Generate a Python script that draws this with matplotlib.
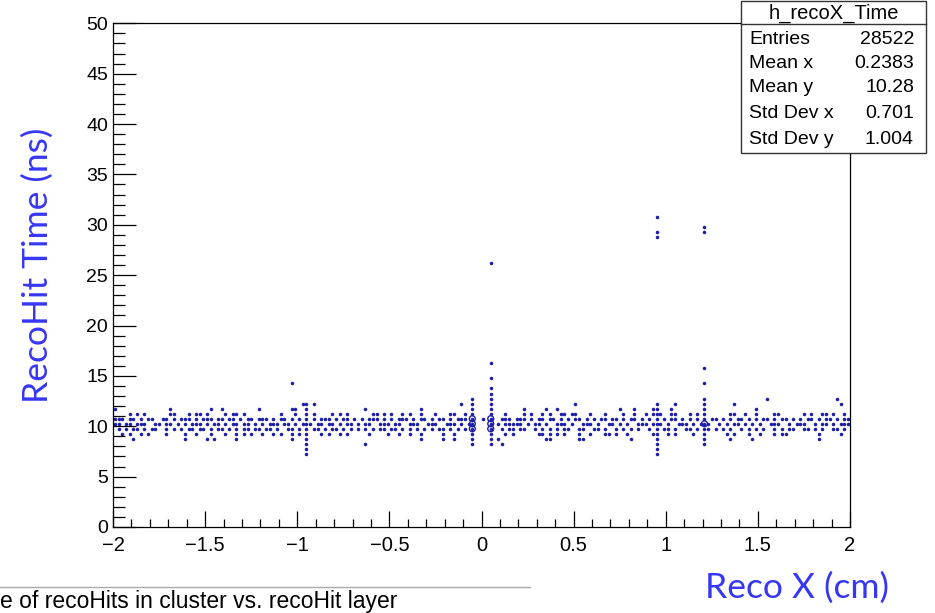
import matplotlib.pyplot as plt
import numpy as np
from matplotlib.ticker import MultipleLocator

# hits: x positions for each time row (ns)
row_1275 = [1.55, 1.93]
row_1225 = [-0.97, -0.91, -0.11, 0.51, 1.05, 1.37, 1.95]
row_1175 = [-1.99, -1.69, -1.47, -1.41, -1.21, -1.03, -1.01, -0.63, -0.33,
            0.23, 0.35, 0.41, 0.75, 0.83, 0.93, 1.03, 1.49]
row_1125 = [-1.91, -1.87, -1.83, -1.69, -1.67, -1.59, -1.55, -1.53, -1.49, -1.39,
            -1.35, -1.33, -1.29, -1.09, -1.01, -0.91, -0.81, -0.77, -0.73,
            -0.59, -0.57, -0.53, -0.49, -0.43, -0.39, -0.33, -0.25, -0.17, -0.15, -0.09,
            0.13, 0.23, 0.27, 0.33, 0.37, 0.43, 0.45, 0.49, 0.51, 0.59,
            0.67, 0.77, 0.83, 0.89, 0.93, 0.97, 1.03, 1.05, 1.13, 1.17,
            1.35, 1.37, 1.43, 1.49, 1.59, 1.61, 1.75, 1.79, 1.85, 1.87, 1.91, 1.97]
row_1075 = [-1.99, -1.97, -1.95, -1.91, -1.89, -1.85, -1.81, -1.79, -1.73, -1.71,
            -1.67, -1.63, -1.61, -1.59, -1.55, -1.51, -1.49, -1.47, -1.43, -1.41,
            -1.37, -1.35, -1.31, -1.27, -1.25, -1.21, -1.19, -1.17, -1.13, -1.09,
            -1.07, -1.03, -0.99, -0.91, -0.87, -0.85, -0.83, -0.79, -0.75, -0.73,
            -0.69, -0.65, -0.61, -0.59, -0.57, -0.53, -0.49, -0.45, -0.43, -0.41,
            -0.37, -0.33, -0.31, -0.27, -0.23, -0.21, -0.17, -0.13, -0.11, -0.09,
            0.01, 0.11, 0.13, 0.15, 0.19, 0.21, 0.23, 0.27, 0.31, 0.33, 0.37, 0.39,
            0.43, 0.47, 0.51, 0.53, 0.57, 0.61, 0.65, 0.67, 0.71, 0.73, 0.77, 0.81,
            0.83, 0.87, 0.91, 0.99, 1.03, 1.05, 1.09, 1.13, 1.17, 1.25, 1.27, 1.31,
            1.35, 1.39, 1.41, 1.45, 1.49, 1.53, 1.55, 1.59, 1.63, 1.65, 1.69, 1.73,
            1.77, 1.79, 1.83, 1.87, 1.89, 1.93, 1.97, 1.99]
row_1025 = [-1.99, -1.97, -1.93, -1.91, -1.87, -1.85, -1.83, -1.77, -1.75, -1.71,
            -1.69, -1.65, -1.61, -1.57, -1.55, -1.53, -1.49, -1.45, -1.43, -1.39,
            -1.35, -1.33, -1.29, -1.27, -1.23, -1.19, -1.15, -1.13, -1.11, -1.07,
            -1.05, -1.01, -0.97, -0.93, -0.89, -0.87, -0.83, -0.81, -0.77, -0.73,
            -0.71, -0.67, -0.63, -0.61, -0.55, -0.53, -0.51, -0.47, -0.45, -0.39,
            -0.37, -0.35, -0.29, -0.27, -0.25, -0.19, -0.17, -0.15, -0.11, -0.07,
            0.09, 0.13, 0.15, 0.17, 0.19, 0.21, 0.25, 0.29, 0.31, 0.35, 0.41, 0.43,
            0.45, 0.49, 0.55, 0.57, 0.59, 0.63, 0.69, 0.71, 0.75, 0.79, 0.85, 0.87,
            0.89, 0.93, 0.97, 1.01, 1.07, 1.09, 1.11, 1.15, 1.19, 1.23, 1.29, 1.33,
            1.37, 1.39, 1.43, 1.47, 1.51, 1.57, 1.59, 1.61, 1.67, 1.71, 1.73, 1.75,
            1.81, 1.85, 1.87, 1.91, 1.95, 1.97, 1.99]
row_975 = [-1.97, -1.93, -1.89, -1.87, -1.83, -1.79, -1.77, -1.71, -1.67, -1.63,
           -1.59, -1.57, -1.53, -1.51, -1.47, -1.43, -1.41, -1.37, -1.33, -1.29,
           -1.27, -1.23, -1.21, -1.17, -1.15, -1.11, -1.05, -1.03, -0.99, -0.91,
           -0.89, -0.85, -0.81, -0.79, -0.75, -0.71, -0.67, -0.63, -0.59, -0.55,
           -0.53, -0.49, -0.47, -0.43, -0.39, -0.35, -0.31, -0.27, -0.23, -0.21,
           -0.17, -0.13, -0.09, 0.11, 0.15, 0.17, 0.21, 0.23, 0.29, 0.33, 0.37,
           0.41, 0.45, 0.47, 0.53, 0.55, 0.61, 0.63, 0.67, 0.73, 0.77, 0.81, 0.85,
           0.91, 0.99, 1.01, 1.05, 1.11, 1.13, 1.17, 1.23, 1.27, 1.31, 1.35, 1.41,
           1.45, 1.49, 1.53, 1.59, 1.63, 1.67, 1.69, 1.75, 1.77, 1.81, 1.85, 1.91,
           1.93, 1.97]
row_925 = [-1.95, -1.91, -1.85, -1.81, -1.71, -1.61, -1.55, -1.47, -1.39, -1.33,
           -1.29, -1.25, -1.19, -1.13, -1.09, -1.03, -0.99, -0.87, -0.83, -0.77,
           -0.73, -0.61, -0.51, -0.45, -0.39, -0.33, -0.21, -0.15, 0.13, 0.17,
           0.31, 0.33, 0.37, 0.41, 0.45, 0.53, 0.59, 0.67, 0.69, 0.73, 0.79,
           0.93, 1.01, 1.05, 1.15, 1.33, 1.37, 1.45, 1.51, 1.59, 1.63, 1.65,
           1.83, 1.95]
row_875 = [-1.89, -1.61, -1.49, -1.45, -1.33, -1.03, -0.33, -0.21, -0.15, 0.09,
           0.35, 0.37, 0.53, 0.55, 0.81, 1.35, 1.47, 1.83]
row_825 = [-0.63, 0.11]

# vertical stacks (x column -> times)
stack_x = [-0.95, -0.05, 0.05, 0.95, 1.21]
stack_t = [
    [7.25, 7.75, 8.25, 8.75, 9.25, 9.75, 10.25, 10.75, 11.25, 11.75, 12.25],
    [8.25, 8.75, 9.25, 9.75, 10.25, 10.75, 11.25, 11.75, 12.25, 12.75],
    [8.25, 8.75, 9.25, 9.75, 10.25, 10.75, 11.25, 11.75, 12.25, 12.75, 13.25,
     13.75, 14.75, 16.25, 26.25],
    [7.25, 7.75, 8.25, 8.75, 9.25, 9.75, 10.25, 10.75, 11.25, 11.75, 12.25,
     28.75, 29.25, 30.75],
    [8.25, 8.75, 9.25, 9.75, 10.25, 10.75, 11.25, 11.75, 12.25, 12.75, 14.25,
     15.75, 29.25, 29.75],
]
extra_x = [-1.03]
extra_t = [14.25]

# crowded bins drawn as open markers
dense_x = [-0.05, -0.05, -0.05, 0.05, 0.05, 0.05, 1.21]
dense_t = [9.75, 10.25, 10.75, 9.75, 10.25, 10.75, 10.25]

stats_names = ['Entries', 'Mean x', 'Mean y', 'Std Dev x', 'Std Dev y']
stats_vals = ['28522', '0.2383', '10.28', '0.701', '1.004']

rows = {12.75: row_1275, 12.25: row_1225, 11.75: row_1175, 11.25: row_1125,
        10.75: row_1075, 10.25: row_1025, 9.75: row_975, 9.25: row_925,
        8.75: row_875, 8.25: row_825}
xs, ts = [], []
for t, xl in rows.items():
    xs += xl
    ts += [t] * len(xl)
for x, tl in zip(stack_x, stack_t):
    xs += [x] * len(tl)
    ts += tl
xs += extra_x
ts += extra_t

plt.rcParams['font.family'] = ['Liberation Sans', 'DejaVu Sans']
fig = plt.figure(figsize=(9.35, 6.13), dpi=100)
ax = fig.add_axes([0.1209, 0.1403, 0.7882, 0.8217])

dot = '#1e1eaa'
ax.scatter(xs, ts, s=6.5, marker='o', color=dot, linewidths=0)
ax.scatter(dense_x, dense_t, s=18, marker='o', facecolors='none',
           edgecolors=dot, linewidths=1.0)

ax.set_xlim(-2, 2)
ax.set_ylim(0, 50)
ax.xaxis.set_major_locator(MultipleLocator(0.5))
ax.xaxis.set_minor_locator(MultipleLocator(0.1))
ax.yaxis.set_major_locator(MultipleLocator(5))
ax.yaxis.set_minor_locator(MultipleLocator(1))
ax.xaxis.set_major_formatter(plt.FuncFormatter(lambda v, p: f'{v:g}'.replace('-', '\u2212')))
ax.tick_params(axis='x', which='major', direction='in', length=11.5, width=0.9,
               labelsize=14.5, pad=6.5, top=False)
ax.tick_params(axis='x', which='minor', direction='in', length=5.8, width=0.9, top=False)
ax.tick_params(axis='y', which='major', direction='in', length=16.5, width=0.9,
               labelsize=14, pad=3.5, right=False)
ax.tick_params(axis='y', which='minor', direction='in', length=8.6, width=0.9, right=False)
for sp in ax.spines.values():
    sp.set_linewidth(0.9)

# stats box
bx0, bx1, by0, by1 = 741 / 935, 926 / 935, 1 - 153 / 613, 1 - 1 / 613
fig.patches.append(plt.Rectangle((bx0, by0), bx1 - bx0, by1 - by0,
                                 transform=fig.transFigure, facecolor='white',
                                 edgecolor='#333333', linewidth=1.0, zorder=5))
fig.lines.append(plt.Line2D([bx0, bx1], [1 - 24 / 613] * 2, transform=fig.transFigure,
                            color='#333333', linewidth=1.0, zorder=6))
fig.text((bx0 + bx1) / 2, 1 - 13 / 613, 'h_recoX_Time', ha='center', va='center',
         fontsize=14.5, zorder=7)
row_y = [40, 64, 88, 114, 139]
for name, val, yy in zip(stats_names, stats_vals, row_y):
    fig.text(749 / 935, 1 - yy / 613, name, ha='left', va='center', fontsize=14, zorder=7)
    fig.text(914 / 935, 1 - yy / 613, val, ha='right', va='center', fontsize=14, zorder=7)

blue = '#3636f5'
fig.text(38 / 935, 1 - 265 / 613, 'RecoHit Time (ns)', rotation=90, ha='center',
         va='center', fontsize=25.5, color=blue, family='Lato')
fig.text(797 / 935, 1 - 588 / 613, 'Reco X (cm)', ha='center', va='center',
         fontsize=25.5, color=blue, family='Lato')

fig.lines.append(plt.Line2D([0, 530 / 935], [1 - 587 / 613] * 2, transform=fig.transFigure,
                            color='#aaaaaa', linewidth=1.0))
fig.text(0, 1 - 608 / 613, 'e of recoHits in cluster vs. recoHit layer',
         ha='left', va='baseline', fontsize=16.5)

fig.savefig('out.png', dpi=100)
